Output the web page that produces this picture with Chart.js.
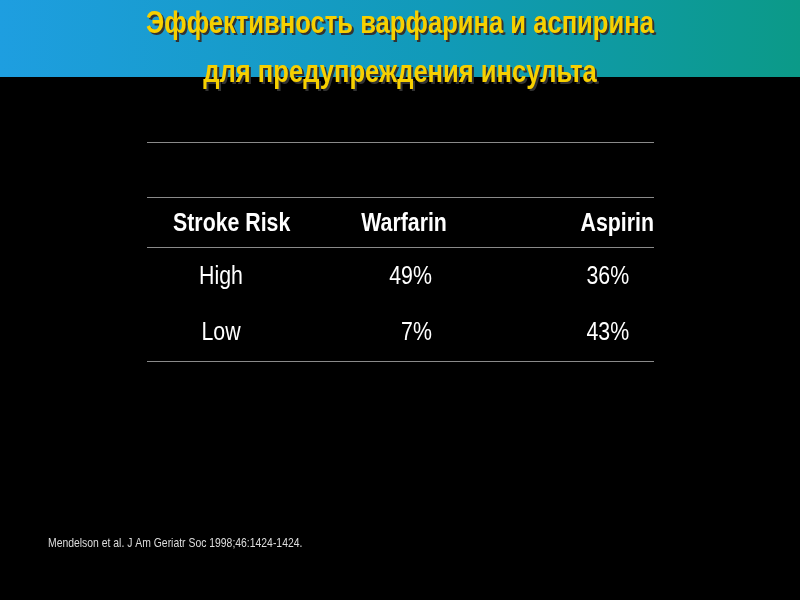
<!DOCTYPE html><html><head><meta charset="utf-8">
<script src="https://cdn.jsdelivr.net/npm/chart.js@4"></script>
<style>html,body{margin:0;background:#000}#w{width:800px;height:600px}</style></head><body><div id="w"><canvas id="c"></canvas></div>
<script>
const titleLines = ['Эффективность варфарина и аспирина','для предупреждения инсульта'];
const headers = ['Stroke Risk','Warfarin','Aspirin'];
const categories = ['High','Low'];
const warfarin = [49, 7];
const aspirin = [36, 43];
const footnote = 'Mendelson et al. J Am Geriatr Soc 1998;46:1424-1424.';
const ruleRows = [0, 55, 105, 219];
const rowY = [82, 135, 191];

const F = '"Liberation Sans",Arial,sans-serif';
function nt(c, t, x, y, sx) {
  c.save(); c.translate(x, y); c.scale(sx, 1); c.fillText(t, 0, 0); c.restore();
}
const tablePlugin = {
  id: 'tbl',
  beforeDraw(ch) {
    const c = ch.ctx;
    c.save();
    c.fillStyle = '#000'; c.fillRect(0,0,ch.width,ch.height);
    const g = c.createLinearGradient(0,0,800,0);
    g.addColorStop(0,'#1e9ee0'); g.addColorStop(0.55,'#119ab8'); g.addColorStop(1,'#0b9a88');
    c.fillStyle = g; c.fillRect(0,0,800,77);
    c.restore();
  },
  afterDraw(ch) {
    const c = ch.ctx, x = ch.scales.x, y = ch.scales.y;
    c.save();
    c.textBaseline = 'middle';
    c.font = 'bold 32px ' + F;
    c.textAlign = 'center';
    titleLines.forEach((t, i) => {
      const ty = i ? 73 : 24;
      c.fillStyle = '#333'; nt(c, t, 402, ty + 2, 0.8);
      c.fillStyle = '#f7d000'; nt(c, t, 400, ty, 0.8);
    });
    c.fillStyle = '#fff';
    c.font = 'bold 26px ' + F;
    c.textAlign = 'center'; nt(c, headers[0], x.getPixelForValue(16.7), y.getPixelForValue(rowY[0]), 0.82);
    nt(c, headers[1], x.getPixelForValue(50.7), y.getPixelForValue(rowY[0]), 0.82);
    c.textAlign = 'right'; nt(c, headers[2], x.getPixelForValue(100), y.getPixelForValue(rowY[0]), 0.82);
    c.font = '26px ' + F;
    categories.forEach((cat, i) => {
      const py = y.getPixelForValue(rowY[i + 1]);
      c.textAlign = 'center'; nt(c, cat, x.getPixelForValue(14.6), py, 0.82);
      c.textAlign = 'right';
      nt(c, warfarin[i] + '%', x.getPixelForValue(56.2), py, 0.82);
      nt(c, aspirin[i] + '%', x.getPixelForValue(95.1), py, 0.82);
    });
    c.font = '13px ' + F; c.fillStyle = '#ddd'; c.textAlign = 'left';
    nt(c, footnote, 48, 543, 0.8);
    c.restore();
  }
};
new Chart(document.getElementById('c'), {
  type: 'scatter',
  data: { datasets: [{ data: [], pointRadius: 0 }] },
  options: {
    responsive: true, maintainAspectRatio: false, animation: false,
    layout: { padding: { left: 147, right: 146, top: 142, bottom: 239 } },
    plugins: { legend: { display: false }, tooltip: { enabled: false } },
    scales: {
      x: { type: 'linear', min: 0, max: 100, display: false },
      y: { type: 'linear', min: 0, max: 219, reverse: true,
        afterBuildTicks: s => { s.ticks = ruleRows.map(v => ({ value: v })); },
        ticks: { display: false }, border: { display: false },
        grid: { color: '#8a8a8a', lineWidth: 1, drawTicks: false } }
    }
  },
  plugins: [tablePlugin]
});
</script></body></html>
